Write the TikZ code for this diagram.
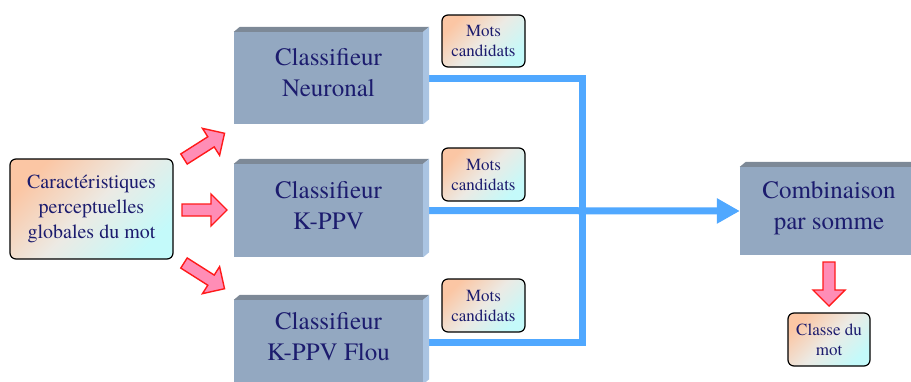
\documentclass[tikz,border=0pt]{standalone}
\usepackage{fontspec}
\newfontfamily\labelfont{texgyretermes-regular.otf}
\usetikzlibrary{arrows.meta}

\definecolor{ink}{HTML}{1C1C6E}
\definecolor{boxface}{HTML}{93A8C1}
\definecolor{boxtop}{HTML}{7D8997}
\definecolor{boxside}{HTML}{AAC4E2}
\definecolor{peach}{HTML}{FBC6A4}
\definecolor{haze}{HTML}{ECEAE4}
\definecolor{aqua}{HTML}{C4FAFA}
\definecolor{busblue}{HTML}{50A8FF}
\definecolor{pinkfill}{HTML}{FF8DB6}
\definecolor{pinkline}{HTML}{FF1A1A}

% solid box with a bevelled top and right side
\newcommand\bevel[1]{%
  \fill[boxtop] (#1.north west) -- ++(6,-5) -- ([shift={(6,-5)}]#1.north east) -- (#1.north east) -- cycle;
  \fill[boxside] (#1.north east) -- ++(6,-5) -- ([shift={(6,-5)}]#1.south east) -- (#1.south east) -- cycle;}

% broad pink arrow: start x, start y, angle, length
\newcommand\pinkarrow[4]{%
  \draw[pinkarr, shift={(#1,#2)}, rotate=#3]
    (0,-6) -- (#4-16,-6) -- (#4-16,-16) -- (#4,0) -- (#4-16,16) -- (#4-16,6) -- (0,6) -- cycle;}

\begin{document}
\begin{tikzpicture}[x=1pt, y=-1pt,
  classbox/.style={fill=boxface, inner sep=0pt, align=center, text=ink,
    text depth=11pt, font=\labelfont\fontsize{25}{31}\selectfont},
  notebox/.style={rounded corners=6pt, draw=black, line width=1.2pt,
    top color=peach, bottom color=aqua, middle color=haze, shading angle=45,
    inner sep=0pt, align=center, text=ink},
  small/.style={font=\labelfont\fontsize{17}{20}\selectfont},
  bus/.style={draw=busblue, line width=7pt, line join=miter},
  pinkarr/.style={fill=pinkfill, draw=pinkline, line width=1.4pt, line join=miter}]

\clip (0,0) rectangle (911,381);
\useasboundingbox (0,0) rectangle (911,381);

% input features
\node[notebox, minimum width=163pt, minimum height=100pt,
      font=\labelfont\fontsize{20}{25}\selectfont] (feat) at (91.5,209)
  {Caractéristiques\\perceptuelles\\globales du mot};

% the three classifiers
\node[classbox, minimum width=189pt, minimum height=92pt] (neur) at (328.5,78)
  {Classifieur\\Neuronal};
\node[classbox, minimum width=189pt, minimum height=93pt] (kppv) at (328.5,210.5)
  {Classifieur\\K-PPV};
\node[classbox, minimum width=189pt, minimum height=84pt] (flou) at (328.5,342)
  {Classifieur\\K-PPV Flou};

% combination
\node[classbox, minimum width=178pt, minimum height=88pt] (comb) at (829,211)
  {Combinaison\\par somme};

% candidate word lists
\node[notebox, small, minimum width=83pt, minimum height=52pt] (cand1) at (483.5,41) {Mots\\candidats};
\node[notebox, small, minimum width=83pt, minimum height=53pt] (cand2) at (483.5,174.5) {Mots\\candidats};
\node[notebox, small, minimum width=83pt, minimum height=53pt] (cand3) at (483.5,305.5) {Mots\\candidats};

% output class
\node[notebox, small, minimum width=82pt, minimum height=53pt] (cls) at (829,339.5) {Classe du\\mot};

% blue bus joining the classifier outputs
\coordinate (junction) at (582,210);
\draw[bus] (neur.east) -- (neur.east -| junction) -- (flou.east -| junction) -- (flou.east);
\draw[bus, -{Triangle[length=23pt,width=24pt]}] (kppv.east) -- (comb.west);

% bevels drawn over the line ends
\bevel{neur}
\bevel{kppv}
\bevel{flou}
\bevel{comb}

% pink arrows
\pinkarrow{184}{159}{32.4}{48}
\pinkarrow{182}{210}{0}{45}
\pinkarrow{184}{263}{-32.4}{48}
\pinkarrow{829}{262}{-90}{44}

\end{tikzpicture}
\end{document}
